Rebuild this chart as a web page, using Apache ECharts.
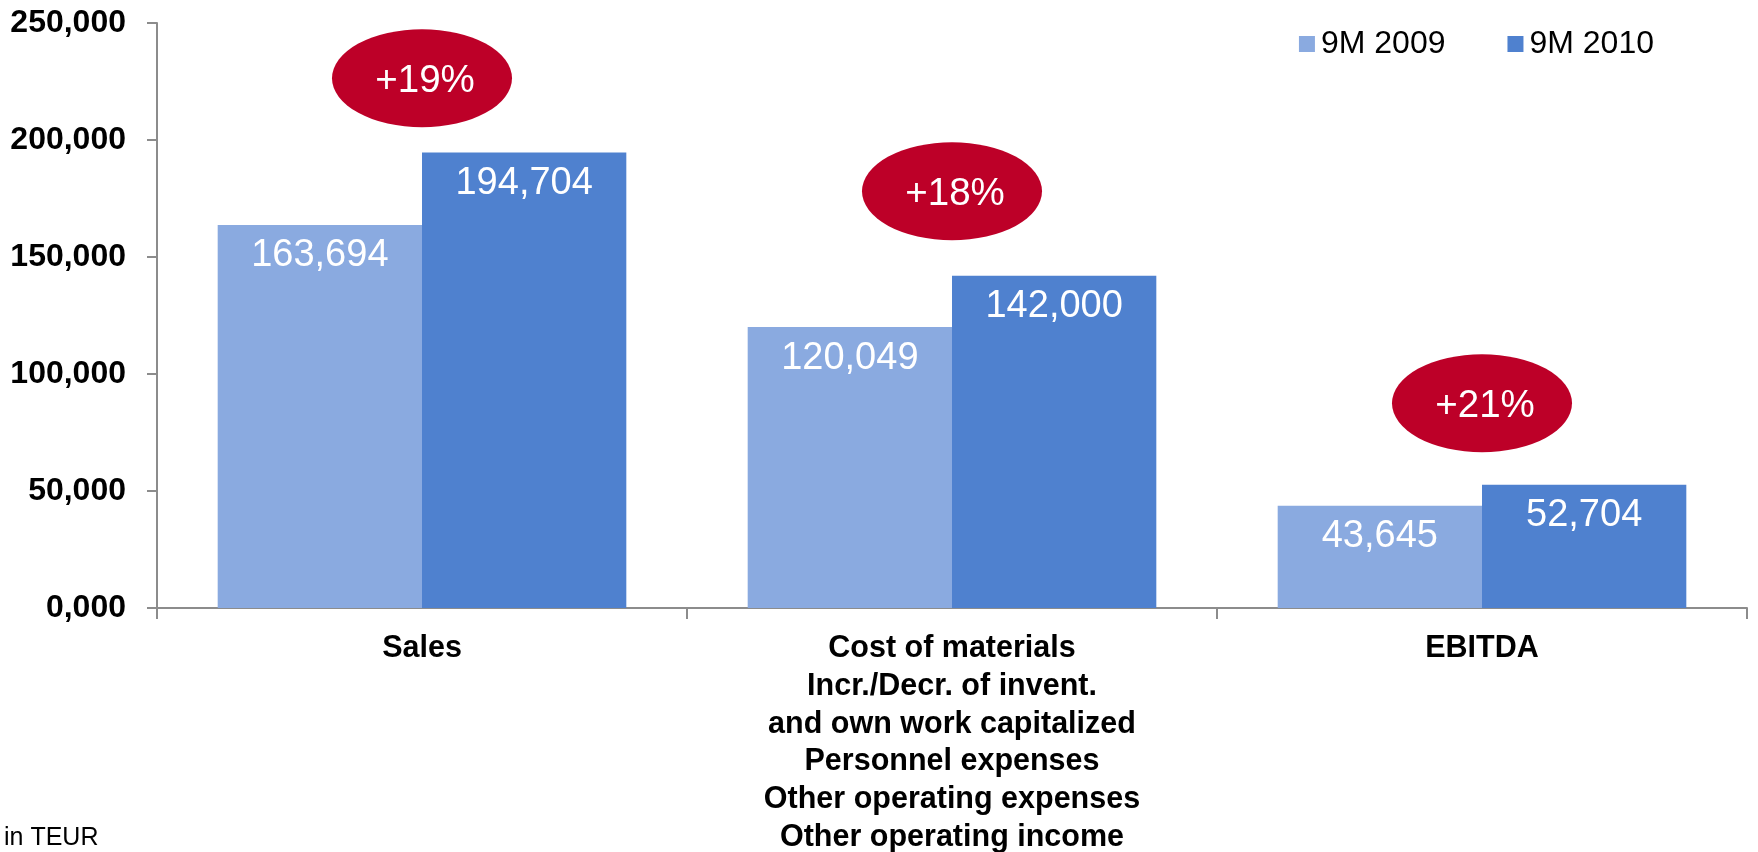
<!DOCTYPE html>
<html>
<head>
<meta charset="utf-8">
<script src="https://cdn.jsdelivr.net/npm/echarts@6/dist/echarts.min.js"></script>
<style>
  html, body { margin: 0; padding: 0; background: #ffffff; }
  #chart { width: 1758px; height: 852px; }
</style>
</head>
<body>
<div id="chart"></div>
<script>
// Categories along the x axis
const categories = [
  'Sales',
  'Cost of materials\nIncr./Decr. of invent.\nand own work capitalized\nPersonnel expenses\nOther operating expenses\nOther operating income',
  'EBITDA'
];
// Series values in TEUR
const series2009 = [163694, 120049, 43645];
const series2010 = [194704, 142000, 52704];
const seriesNames = ['9M 2009', '9M 2010'];

// Growth badges: text and the y value where each badge sits
const growthLabels = ['+19%', '+18%', '+21%'];
const growthBadgeY = [226400, 178100, 87500];

// Y axis tick labels (0 to 250,000 in steps of 50,000)
const yTickLabels = ['0,000', '50,000', '100,000', '150,000', '200,000', '250,000'];

const FONT = '"Liberation Sans", Arial, Helvetica, sans-serif';
const AXIS_GRAY = '#8c8c8c';

const chart = echarts.init(document.getElementById('chart'), null, { renderer: 'canvas' });

const fmt = v => v.toLocaleString('en-US');

const valueLabel = {
  show: true,
  position: 'insideTop',
  distance: 12,
  color: '#ffffff',
  fontSize: 38,
  formatter: p => fmt(p.value)
};

chart.setOption({
  animation: false,
  backgroundColor: '#ffffff',
  textStyle: { fontFamily: FONT },
  grid: {
    left: 157, right: 11, top: 23, bottom: 244,
    containLabel: false,
    outerBoundsMode: 'none'
  },
  legend: {
    data: seriesNames,
    right: 99,
    top: 23,
    itemWidth: 16,
    itemHeight: 16,
    itemGap: 62,
    icon: 'rect',
    textStyle: { fontSize: 32, color: '#000', fontFamily: FONT, padding: [0, 0, 0, 1] }
  },
  xAxis: {
    type: 'category',
    data: categories,
    axisLine: { lineStyle: { color: AXIS_GRAY, width: 2 } },
    axisTick: { show: true, length: 11, lineStyle: { color: AXIS_GRAY, width: 2 } },
    axisLabel: {
      color: '#000',
      fontSize: 30.5,
      fontWeight: 'bold',
      lineHeight: 37.7,
      margin: 22,
      align: 'center',
      interval: 0
    }
  },
  yAxis: {
    type: 'value',
    min: 0,
    max: 250000,
    interval: 50000,
    splitLine: { show: false },
    axisLine: { show: true, lineStyle: { color: AXIS_GRAY, width: 2 } },
    axisTick: { show: true, length: 10, lineStyle: { color: AXIS_GRAY, width: 2 } },
    axisLabel: {
      color: '#000',
      fontSize: 32,
      fontWeight: 'bold',
      margin: 31,
      formatter: v => yTickLabels[Math.round(v / 50000)]
    }
  },
  series: [
    {
      name: seriesNames[0],
      type: 'bar',
      data: series2009,
      barGap: '0%',
      barCategoryGap: '22.9%',
      itemStyle: { color: '#8aaae0' },
      label: valueLabel
    },
    {
      name: seriesNames[1],
      type: 'bar',
      data: series2010,
      barGap: '0%',
      barCategoryGap: '22.9%',
      itemStyle: { color: '#4f81cf' },
      label: valueLabel
    },
    {
      name: 'growth',
      type: 'scatter',
      z: 5,
      symbol: 'circle',
      symbolSize: [180, 98],
      itemStyle: { color: '#bd0028', opacity: 1 },
      data: growthBadgeY.map((y, i) => [i, y]),
      label: {
        show: true,
        position: 'inside',
        offset: [3, 3],
        color: '#ffffff',
        fontSize: 38.5,
        formatter: p => growthLabels[p.dataIndex]
      }
    }
  ],
  graphic: [
    {
      type: 'text',
      left: 4,
      top: 826,
      style: { text: 'in TEUR', fill: '#000', font: '25px ' + FONT }
    }
  ]
});
</script>
</body>
</html>
